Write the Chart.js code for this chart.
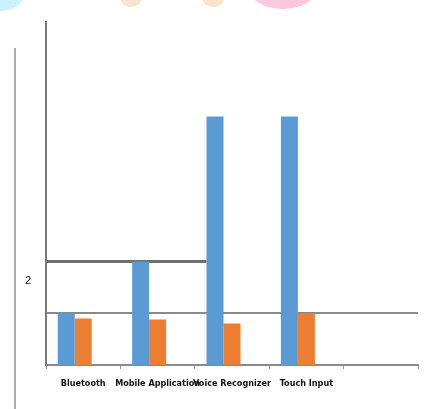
<!DOCTYPE html>
<html>
<head>
<meta charset="utf-8">
<script src="https://cdn.jsdelivr.net/npm/chart.js@4.4.0/dist/chart.umd.min.js"></script>
<style>
  body { margin: 0; background: #fff; overflow: hidden; }
  #wrap { position: relative; width: 425px; height: 409px; }
  #c { position: absolute; left: 0; top: 0; }
  .blob { position: absolute; border-radius: 50%; }
  .edge { position: absolute; background: #adadad; }
</style>
</head>
<body>
<div id="wrap">
  <!-- pastel bits of the page above the chart -->
  <div class="blob" style="left:-26px;top:-22px;width:50px;height:33px;background:#c8f3fb"></div>
  <div class="blob" style="left:120px;top:-12px;width:22px;height:19px;background:#fde3cf"></div>
  <div class="blob" style="left:202px;top:-12px;width:22px;height:19px;background:#fde1c8"></div>
  <div class="blob" style="left:250px;top:-30px;width:66px;height:39px;background:#fbc8de"></div>
  <div class="edge" style="left:14px;top:48px;width:2px;height:361px"></div>
  <canvas id="c" width="425" height="409"></canvas>
</div>
<script>
var categories = ['Bluetooth', 'Mobile Application', 'Voice Recognizer', 'Touch Input', ''];
var series1 = [1, 2, 4.8, 4.8, null];
var series2 = [0.9, 0.88, 0.8, 1.0, null];
var series3 = [null, null, null, null, null];
var yTicks = [1, 2];
var refLevel = 2;

var partialLine = {
  id: 'partialLine',
  beforeDatasetsDraw: function (chart) {
    var ctx = chart.ctx;
    var y = chart.scales.y.getPixelForValue(refLevel);
    var bar = chart.getDatasetMeta(0).data[2];
    ctx.save();
    ctx.strokeStyle = '#6f6f6f';
    ctx.lineWidth = 3;
    ctx.beginPath();
    ctx.moveTo(chart.chartArea.left, y);
    ctx.lineTo(bar.x - bar.width / 2, y);
    ctx.stroke();
    ctx.restore();
  }
};

new Chart(document.getElementById('c'), {
  type: 'bar',
  data: {
    labels: categories,
    datasets: [
      { data: series1, backgroundColor: '#5b9bd5' },
      { data: series2, backgroundColor: '#ed7d31' },
      { data: series3, backgroundColor: '#a5a5a5' }
    ]
  },
  options: {
    responsive: false,
    animation: false,
    layout: { padding: { top: 20, right: 7, bottom: 14, left: 0 } },
    plugins: { legend: { display: false }, tooltip: { enabled: false } },
    datasets: { bar: { categoryPercentage: 0.685, barPercentage: 1 } },
    scales: {
      x: {
        afterFit: function (s) { s.height = 30; },
        border: { color: '#8a8a8a', width: 2 },
        grid: { drawOnChartArea: false, color: '#9a9a9a', tickLength: 4 },
        ticks: {
          autoSkip: false, maxRotation: 0, minRotation: 0, padding: 9,
          color: '#111',
          font: { family: '"Liberation Sans Narrow", "DejaVu Sans Condensed", sans-serif', size: 9, weight: 'bold' }
        }
      },
      y: {
        min: 0,
        max: 6.63,
        afterFit: function (s) { s.width = 46; },
        afterBuildTicks: function (s) { s.ticks = yTicks.map(function (v) { return { value: v }; }); },
        border: { color: '#7a7a7a', width: 2 },
        grid: {
          tickLength: 0,
          lineWidth: 2,
          color: function (c) { return c.tick && c.tick.value === 1 ? '#8a8a8a' : 'rgba(0,0,0,0)'; }
        },
        ticks: {
          padding: 15,
          labelOffset: 20,
          color: '#111',
          font: { family: 'Liberation Sans, sans-serif', size: 11 },
          callback: function (v) { return v === refLevel ? String(v) : ''; }
        }
      }
    }
  },
  plugins: [partialLine]
});
</script>
</body>
</html>
